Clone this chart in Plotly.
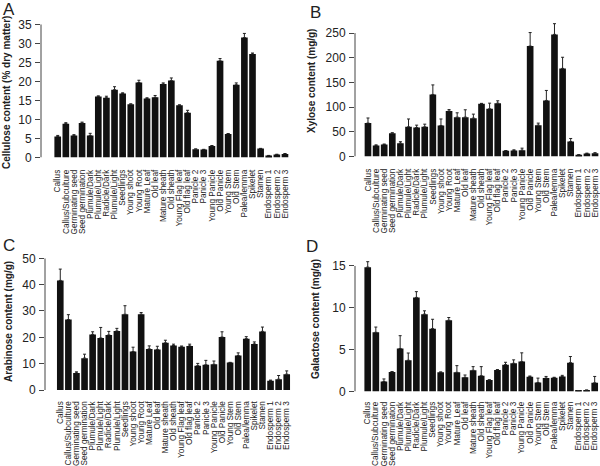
import plotly.graph_objects as go

categories = ["Callus", "Callus/Subculture", "Germinating seed", "Seed germination",
              "Plumule/Dark", "Plumule/Light", "Radicle/Dark", "Plumule/Light", "Seedlings",
              "Young shoot", "Young Root", "Mature Leaf", "Old leaf", "Mature sheath",
              "Old sheath", "Young Flag leaf", "Old flag leaf", "Panicle 2", "Panicle 3",
              "Young Panicle", "Old Panicle", "Young Stem", "Old Stem", "Palea/lemma",
              "Spikelet", "Stamen", "Endosperm 1", "Endosperm 2", "Endosperm 3"]

cellulose = [5.5, 8.9, 5.8, 9.05, 5.8, 16.0, 15.7, 17.8, 16.8, 14.0, 19.7, 15.5, 15.8, 19.3,
             20.2, 13.7, 11.75, 2.2, 2.1, 3.0, 25.4, 6.2, 19.1, 31.5, 27.2, 2.35, 0.5, 0.8, 0.95]
cellulose_se = [0.3, 0.25, 0.2, 0.25, 0.55, 0.2, 0.4, 0.8, 0.2, 0.1, 0.6, 0.2, 0.5, 0.3, 0.7,
                0.15, 0.65, 0.05, 0.05, 0.15, 0.6, 0.1, 0.5, 1.1, 0.25, 0.05, 0.05, 0.05, 0.1]

xylose = [67.6, 22.3, 24.3, 47.3, 27, 60, 58.8, 60, 125.7, 62.8, 92, 79.7, 79.7, 77.7, 106.8,
          96.6, 108, 11.5, 12.2, 12.8, 223.6, 63.5, 113.5, 247.3, 178.4, 30.4, 3.4, 6, 6.8]
xylose_se = [10.4, 1.3, 1, 0.8, 3, 16, 4.7, 5.5, 19.3, 13.2, 3, 8.8, 14.9, 8.1, 0.8, 11.4, 4.8,
             0.5, 1.3, 4.1, 27.4, 4.1, 20.3, 21.7, 22.6, 6.1, 0.3, 0.8, 0.8]

arabinose = [41.6, 26.75, 6.5, 12.1, 21.1, 19.75, 20.9, 22.4, 28.75, 14.6, 28.75, 15.6, 15.4,
             17.9, 16.9, 16.4, 16.75, 9.25, 9.6, 9.75, 20.1, 10.4, 13.1, 19.5, 17.5, 22.25,
             3.5, 4.1, 6.0]
arabinose_se = [4.3, 1.85, 0.4, 1.5, 1.0, 4.0, 1.35, 1.0, 3.25, 1.65, 0.65, 1.15, 1.2, 1.0, 0.5,
                0.3, 0.65, 0.85, 1.65, 1.25, 2.0, 0.1, 1.0, 0.75, 0.75, 1.65, 0.25, 1.4, 1.25]

galactose = [14.86, 7.07, 1.2, 2.33, 5.14, 3.73, 11.24, 9.24, 7.51, 2.29, 8.51, 2.29, 1.69,
             2.53, 1.89, 1.37, 2.57, 3.21, 3.37, 3.57, 1.77, 1.08, 1.6, 1.65, 1.8, 3.45,
             0.1, 0.15, 1.04]
galactose_se = [0.65, 0.63, 0.3, 0.05, 1.53, 0.87, 0.69, 0.4, 1.12, 0.05, 0.33, 0.8, 0.28, 0.44,
                1.08, 0.03, 0.05, 0.28, 0.41, 1.05, 0.08, 0.52, 0.2, 0.05, 0.13, 0.73,
                0.02, 0.03, 0.76]

W, H = 600, 466
FONT = "Liberation Sans, Arial, sans-serif"
TXT = "#222222"

def px(x):
    return x / W

def py(y):
    return 1 - y / H

panels = [
    dict(letter="A", title="<b>Cellulose content (% dry matter)</b>", v=cellulose, se=cellulose_se,
         xd=(41, 290), xr=(-2.06, 28.62), yd=(24.3, 157.5), yr=(0, 35), dt=5, top=35,
         lp=(1, 9.5), tp=(6, 93), tl=8),
    dict(letter="B", title="<b>Xylose content (mg/g)</b>", v=xylose, se=xylose_se,
         xd=(355, 599), xr=(-1.6, 28.49), yd=(22.2, 156.5), yr=(0, 272), dt=50, top=250,
         lp=(308, 12.5), tp=(312, 81), tl=8),
    dict(letter="C", title="<b>Arabinose content (mg/g)</b>", v=arabinose, se=arabinose_se,
         xd=(45, 291), xr=(-1.89, 28.53), yd=(258.3, 390), yr=(0, 50), dt=10, top=50,
         lp=(1, 245.5), tp=(8, 322), tl=7),
    dict(letter="D", title="<b>Galactose content (mg/g)</b>", v=galactose, se=galactose_se,
         xd=(355, 599), xr=(-1.57, 28.53), yd=(260.1, 391.5), yr=(0, 15.7), dt=5, top=15,
         lp=(304, 246), tp=(315, 319), tl=6),
]

fig = go.Figure()
idx = list(range(len(categories)))
shapes = []
annotations = []
layout = {}
for i, p in enumerate(panels):
    n = "" if i == 0 else str(i + 1)
    xa, ya = "x" + n, "y" + n
    fig.add_trace(go.Bar(
        x=idx, y=p["v"], xaxis=xa, yaxis=ya,
        marker=dict(color="#111111", line=dict(width=0)),
        error_y=dict(type="data", symmetric=False, array=p["se"],
                     arrayminus=[0] * len(p["se"]), color="#222222",
                     thickness=1, width=1.5),
        showlegend=False, hoverinfo="x+y"))
    layout["xaxis" + n] = dict(
        domain=[px(p["xd"][0]), px(p["xd"][1])], range=list(p["xr"]), anchor=ya,
        tickmode="array", tickvals=idx, ticktext=categories, tickangle=-90,
        ticks="outside", ticklen=p["tl"], tickcolor="rgba(0,0,0,0)",
        showline=False, showgrid=False, zeroline=False,
        tickfont=dict(family=FONT, size=8.2, color=TXT),
        ticklabeloverflow="allow", automargin=False, fixedrange=True)
    layout["yaxis" + n] = dict(
        domain=[py(p["yd"][1]), py(p["yd"][0])], range=list(p["yr"]), anchor=xa,
        tick0=0, dtick=p["dt"], ticks="outside", ticklen=5, tickcolor="#444444",
        tickwidth=1, showline=False, showgrid=False, zeroline=False,
        tickfont=dict(family=FONT, size=12, color=TXT), ticklabelstandoff=1,
        automargin=False, fixedrange=True)
    shapes.append(dict(type="line", xref=xa + " domain", yref=ya, x0=0, x1=0,
                       y0=0, y1=p["top"], line=dict(color="#444444", width=1)))
    annotations.append(dict(text=p["letter"], xref="paper", yref="paper",
                            x=px(p["lp"][0]), y=py(p["lp"][1]), xanchor="left",
                            yanchor="middle", showarrow=False,
                            font=dict(family=FONT, size=17, color=TXT)))
    annotations.append(dict(text=p["title"], xref="paper", yref="paper",
                            x=px(p["tp"][0]), y=py(p["tp"][1]), xanchor="center",
                            yanchor="middle", textangle=-90, showarrow=False,
                            font=dict(family=FONT, size=10, color=TXT)))

fig.update_layout(
    width=W, height=H, margin=dict(l=0, r=0, t=0, b=0),
    paper_bgcolor="white", plot_bgcolor="white",
    bargap=0.18, shapes=shapes, annotations=annotations,
    font=dict(family=FONT, color=TXT), **layout)

fig.write_html("out.html", config={"displayModeBar": False},
               post_script="document.body.style.margin='0';document.body.style.overflow='hidden';")
